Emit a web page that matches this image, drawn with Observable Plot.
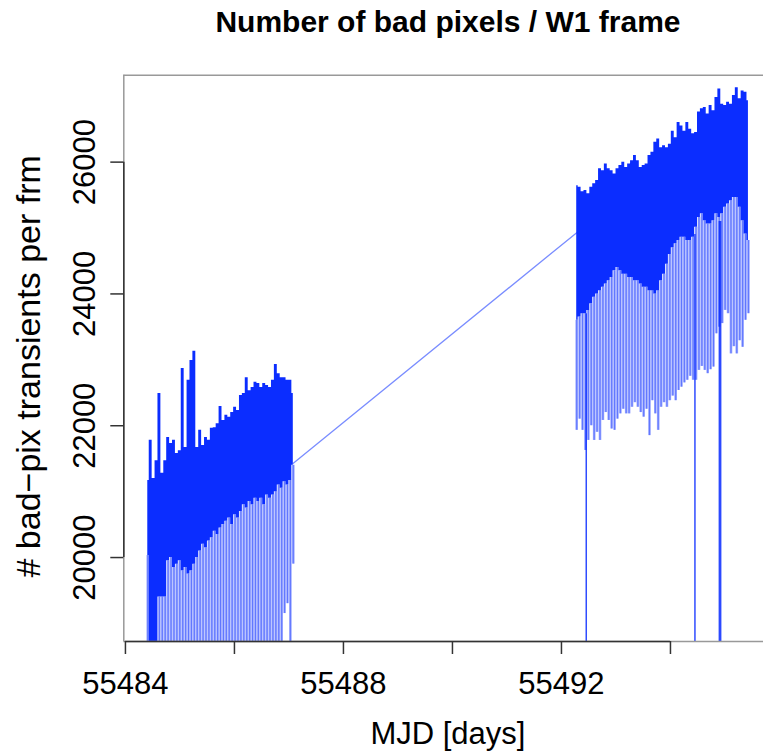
<!DOCTYPE html>
<html><head><meta charset="utf-8">
<script src="https://cdn.jsdelivr.net/npm/d3@7"></script>
<script src="https://cdn.jsdelivr.net/npm/@observablehq/plot@0.6"></script>
<style>body{margin:0;background:#fff} svg{display:block}</style>
</head><body><div id="chart"></div>
<script>
// ---- data ----
const titleText = "Number of bad pixels / W1 frame";
const xLabel = "MJD [days]";
const yLabel = "# bad\u2212pix transients per frm";

// segment 1 (frames sampled at a regular cadence)
const seg1Start = 55484.41, seg1Step = 0.0534;
const seg1Hi = [21170, 21780, 21200, 21470, 22490, 21280, 21470, 21820, 21730, 21780, 21580, 21620, 22870, 21670, 22690, 22990, 23130, 21670, 21930, 21700, 21820, 21780, 21960, 21970, 22030, 22290, 22080, 22160, 22130, 22200, 22280, 22230, 22460, 22490, 22730, 22530, 22580, 22660, 22640, 22580, 22640, 22610, 22580, 22690, 22930, 22790, 22730, 22730, 22690, 22690, 22490];
const seg1Core = [20030, 18500, 18500, 18500, 19400, 19400, 19400, 19950, 20000, 19850, 19900, 19950, 19800, 19850, 19750, 19800, 19900, 20000, 20100, 20200, 20150, 20250, 20300, 20400, 20350, 20450, 20500, 20550, 20600, 20500, 20650, 20600, 20700, 20800, 20750, 20850, 20800, 20900, 20850, 20900, 20800, 20950, 20900, 20950, 21000, 21100, 21050, 21150, 21100, 21170, 21400];
const seg1Deep = [18000, 18000, 18000, 18000, 18000, 18000, 18000, 18000, 18000, 18000, 18000, 18000, 18000, 18000, 18000, 18000, 18000, 18000, 18000, 18000, 18000, 18000, 18000, 18000, 18000, 18000, 18000, 18000, 18000, 18000, 18000, 18000, 18000, 18000, 18000, 18000, 18000, 18000, 18000, 18000, 18000, 18000, 18000, 18000, 18000, 18000, 18000, 19150, 19300, 18000, 19900];

// segment 2
const seg2Start = 55492.28, seg2Step = 0.0534;
const seg2Hi = [25640, 25620, 25550, 25570, 25520, 25620, 25670, 25720, 25900, 25870, 25970, 25900, 25870, 25820, 25900, 25950, 26000, 25920, 25970, 26020, 26100, 26020, 25920, 25950, 25970, 26100, 26150, 26300, 26350, 26220, 26250, 26220, 26270, 26470, 26370, 26600, 26550, 26470, 26600, 26500, 26430, 26450, 26760, 26810, 26830, 26730, 26860, 26780, 26980, 27110, 26880, 26860, 26910, 26880, 27010, 27130, 26960, 27080, 27060, 26930];
const seg2Core = [23600, 23650, 23700, 23700, 23750, 23850, 23950, 24000, 24050, 24100, 24150, 24200, 24250, 24350, 24400, 24350, 24300, 24300, 24250, 24250, 24200, 24200, 24150, 24100, 24100, 24050, 24050, 24000, 24050, 24200, 24300, 24450, 24600, 24700, 24760, 24810, 24860, 24860, 24810, 24810, 24860, 25010, 25160, 25215, 25110, 25060, 25060, 25110, 25215, 25160, 25215, 25315, 25365, 25415, 25465, 25465, 25315, 25110, 24910, 24810];
const seg2Deep = [21930, 22100, 21930, 21625, 21777, 22000, 21777, 21900, 21777, 22080, 22200, 22080, 21950, 21930, 22100, 22180, 22250, 22180, 22180, 22280, 22350, 22280, 22200, 22130, 22250, 21850, 22380, 22180, 21930, 22280, 22350, 22280, 22380, 22450, 22380, 22535, 22585, 22650, 22690, 22750, 22690, 22690, 22840, 22900, 22840, 22790, 22850, 22890, 23395, 23495, 23550, 23750, 23700, 23090, 23200, 23090, 23290, 23190, 23600, 23700];

// straight connection across the data gap
const gapT = [55487.08, 55492.28];
const gapV = [21430, 24930];

// isolated frames that drop far below the plotted range
const dropT = [55492.455, 55494.449, 55494.897, 55494.921];
const dropTop = [23700, 24900, 25100, 25100];
const dropBottom = [12000, 12000, 12000, 12000];

// ticks
const xTicks = [55484, 55486, 55488, 55490, 55492, 55494];
const xTickLabels = ["55484", "", "55488", "", "55492", ""];
const yTicks = [20000, 22000, 24000, 26000];
const yTickLabels = ["20000", "22000", "24000", "26000"];

// ---- build tables ----
function seg(start, step, hi, core, deep, id) {
  return hi.map((h, i) => ({t: start + i * step, hi: h, core: core[i], deep: deep[i], seg: id}));
}
const rows = [...seg(seg1Start, seg1Step, seg1Hi, seg1Core, seg1Deep, 1),
              ...seg(seg2Start, seg2Step, seg2Hi, seg2Core, seg2Deep, 2)];
const gap = gapT.map((t, i) => ({t, v: gapV[i]}));
const drops = dropT.map((t, i) => ({t, top: dropTop[i], bottom: dropBottom[i]}));
const xLabMap = new Map(xTicks.map((v, i) => [v, xTickLabels[i]]));
const yTickRows = yTicks.map((v, i) => ({v, label: yTickLabels[i]}));

const BLUE = "#0b2dff";
const FONT = "'Liberation Sans', Arial, Helvetica, sans-serif";
const xDom = [55483.97, 55495.707];
const yDom = [18726, 27319];

const chart = Plot.plot({
  width: 763, height: 752,
  marginLeft: 123.3, marginRight: 0, marginTop: 74.7, marginBottom: 111,
  x: {domain: xDom, axis: null},
  y: {domain: yDom, axis: null},
  style: {fontFamily: FONT, background: "#fff", color: "#000"},
  marks: [
    // light excursions below the dense band
    Plot.ruleX(rows, {x: "t", y1: "deep", y2: "core", stroke: BLUE, strokeOpacity: 0.42, strokeWidth: 2.6, clip: true}),
    Plot.ruleX(rows, {x: "t", y1: "deep", y2: "core", stroke: BLUE, strokeOpacity: 0.45, strokeWidth: 0.9, clip: true}),
    Plot.ruleX(drops, {x: "t", y1: "bottom", y2: "top", stroke: BLUE, strokeOpacity: 0.85, strokeWidth: 1.5, clip: true}),
    // dense band
    Plot.areaY(rows, {x: "t", y1: "core", y2: "hi", z: "seg", curve: "step", fill: BLUE, clip: true}),
    // gap line
    Plot.line(gap, {x: "t", y: "v", stroke: BLUE, strokeOpacity: 0.55, strokeWidth: 1.3}),
    // box (open at the cropped right edge)
    Plot.ruleY([yDom[1]], {stroke: "#999", strokeWidth: 1.5}),
    Plot.ruleY([yDom[0]], {stroke: "#999", strokeWidth: 1.5}),
    Plot.ruleX([xDom[0]], {stroke: "#999", strokeWidth: 1.5}),
    // axis lines
    Plot.ruleY([yDom[0]], {x1: xTicks[0], x2: xTicks[xTicks.length - 1], stroke: "#333", strokeWidth: 1.5}),
    Plot.ruleX([xDom[0]], {y1: yTicks[0], y2: yTicks[yTicks.length - 1], stroke: "#333", strokeWidth: 1.5}),
    Plot.axisX(xTicks, {anchor: "bottom", tickSize: 13, tickPadding: 17, tickFormat: d => xLabMap.get(d) ?? "", fontSize: 31, stroke: "#333", strokeWidth: 1.5, label: null}),
    Plot.axisY(yTicks, {anchor: "left", tickSize: 13, tickFormat: () => "", stroke: "#333", strokeWidth: 1.5, label: null}),
    Plot.text(yTickRows, {x: () => xDom[0], y: "v", text: "label", rotate: -90, dx: -39, fontSize: 31, textAnchor: "middle", lineAnchor: "middle", fill: "#000"}),
    // titles
    Plot.text([titleText], {frameAnchor: "top", dx: 4.3, dy: -52.7, fontSize: 30, fontWeight: "bold", lineAnchor: "middle", fill: "#000"}),
    Plot.text([xLabel], {frameAnchor: "bottom", dx: 4.3, dy: 93, fontSize: 31, lineAnchor: "middle", fill: "#000"}),
    Plot.text([yLabel], {frameAnchor: "left", dx: -95, dy: 8, rotate: -90, fontSize: 34, textAnchor: "middle", lineAnchor: "middle", fill: "#000"})
  ]
});
document.getElementById("chart").appendChild(chart);
</script>
</body></html>
